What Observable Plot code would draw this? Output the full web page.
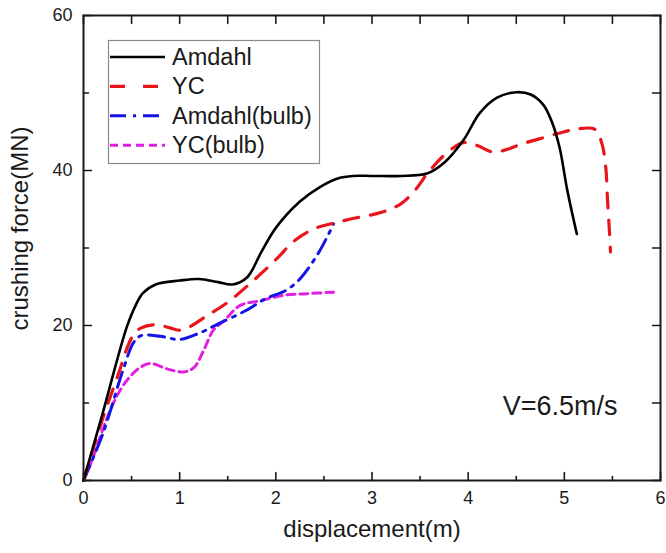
<!DOCTYPE html>
<html><head><meta charset="utf-8">
<script src="https://cdn.jsdelivr.net/npm/d3@7"></script>
<script src="https://cdn.jsdelivr.net/npm/@observablehq/plot@0.6"></script>
<style>body{margin:0;background:#fff}#chart{width:666px;height:553px}</style>
</head><body><div id="chart"></div>
<script>
// ---- data ----
const seriesNames = ["Amdahl", "YC", "Amdahl(bulb)", "YC(bulb)"];
const seriesColors = ["#000000", "#e8161b", "#1414e6", "#e020e0"];
const seriesDash = [null, "15,12", "16,7,3,7", "8,5"];
const seriesWidths = [2.6, 3.2, 3, 3];

const amdahlX = [0, 0.2, 0.45, 0.55, 0.62, 0.75, 1.0, 1.2, 1.4, 1.55, 1.7, 1.85, 2.0, 2.25, 2.45, 2.65, 2.8, 3.0, 3.3, 3.57, 3.75, 3.95, 4.12, 4.3, 4.5, 4.65, 4.78, 4.87, 4.95, 5.03, 5.13];
const amdahlY = [0, 8.7, 19.8, 22.8, 24.2, 25.3, 25.8, 26.0, 25.6, 25.3, 26.2, 29.5, 32.6, 36.0, 37.8, 39.0, 39.3, 39.3, 39.3, 39.6, 41.0, 43.9, 47.4, 49.4, 50.1, 49.8, 48.5, 46.3, 43.0, 37.5, 31.8];

const ycX = [0, 0.2, 0.37, 0.45, 0.52, 0.6, 0.75, 0.9, 1.0, 1.1, 1.25, 1.5, 1.73, 2.0, 2.2, 2.4, 2.6, 2.8, 3.1, 3.3, 3.45, 3.6, 3.8, 3.95, 4.1, 4.25, 4.4, 4.55, 4.8, 5.0, 5.15, 5.32, 5.39, 5.43, 5.45, 5.47, 5.48];
const ycY = [0, 8.0, 14.0, 17.0, 18.8, 19.7, 20.1, 19.7, 19.4, 19.8, 21.0, 23.0, 25.4, 28.5, 31.0, 32.5, 33.2, 33.8, 34.6, 35.7, 37.5, 40.0, 42.5, 43.6, 43.2, 42.4, 42.7, 43.4, 44.3, 45.0, 45.4, 45.3, 43.5, 40.5, 36.0, 32.0, 29.5];

const amdahlBulbX = [0, 0.2, 0.42, 0.52, 0.6, 0.8, 1.0, 1.2, 1.4, 1.7, 1.9, 2.1, 2.25, 2.45, 2.6];
const amdahlBulbY = [0, 6.0, 14.6, 17.8, 18.7, 18.6, 18.2, 19.0, 20.2, 22.0, 23.5, 24.5, 26.0, 29.5, 33.1];

const ycBulbX = [0, 0.1, 0.21, 0.33, 0.45, 0.59, 0.7, 0.87, 1.04, 1.15, 1.25, 1.35, 1.46, 1.63, 1.84, 2.08, 2.32, 2.6];
const ycBulbY = [0, 3.0, 6.9, 10.5, 12.9, 14.6, 15.1, 14.4, 14.0, 14.6, 16.8, 19.4, 20.6, 22.6, 23.2, 23.9, 24.1, 24.3];

const xTicks = [0, 1, 2, 3, 4, 5, 6];
const xMinorTicks = [0.5, 1.5, 2.5, 3.5, 4.5, 5.5];
const yTicks = [0, 20, 40, 60];
const yMinorTicks = [10, 30, 50];
const xTitle = "displacement(m)";
const yTitle = "crushing force(MN)";
const annotation = "V=6.5m/s";
const annotationX = 4.36;
const annotationY = 9.6;

// ---- build ----
const seriesXs = [amdahlX, ycX, amdahlBulbX, ycBulbX];
const seriesYs = [amdahlY, ycY, amdahlBulbY, ycBulbY];
const tables = seriesXs.map((xs, s) => xs.map((x, i) => ({x, y: seriesYs[s][i]})));

const font = "Liberation Sans, Arial, sans-serif";
const ink = "#1a1a1a";
const lineMarks = tables.map((t, s) => Plot.line(t, {
  x: "x", y: "y", stroke: seriesColors[s], strokeWidth: seriesWidths[s],
  strokeDasharray: seriesDash[s] || undefined, curve: "catmull-rom",
  strokeLinejoin: "round"
}));

// straight tick shape for vector marks
const tickShape = {draw(ctx, l) { ctx.moveTo(0, 0); ctx.lineTo(0, -l); }};
const tickX = (data, frameAnchor, rotate, length) => Plot.vector(data, {
  x: d => d, frameAnchor, rotate, length, anchor: "start", shape: tickShape,
  stroke: ink, strokeWidth: 1.6
});
const tickY = (data, frameAnchor, rotate, length) => Plot.vector(data, {
  y: d => d, frameAnchor, rotate, length, anchor: "start", shape: tickShape,
  stroke: ink, strokeWidth: 1.6
});

const svg = Plot.plot({
  width: 666, height: 553,
  marginLeft: 83, marginRight: 6, marginTop: 15, marginBottom: 73,
  style: {fontFamily: font, fontSize: "18px", color: ink, background: "#fff"},
  x: {domain: [0, 6], label: null},
  y: {domain: [0, 60], label: null},
  marks: [
    ...lineMarks.slice().reverse(),
    Plot.frame({stroke: ink, strokeWidth: 2}),
    // inward ticks
    tickX(xTicks, "bottom", 0, 8),
    tickX(xMinorTicks, "bottom", 0, 4),
    tickX(xTicks.concat(xMinorTicks), "top", 180, 8),
    tickY(yTicks, "left", 90, 8),
    tickY(yMinorTicks, "left", 90, 5),
    tickY(yTicks.concat(yMinorTicks), "right", 270, 8),
    // labels
    Plot.axisX(xTicks, {anchor: "bottom", tickSize: 0, tickPadding: 11, fontSize: 18, label: null}),
    Plot.axisY(yTicks, {anchor: "left", tickSize: 0, tickPadding: 11, fontSize: 18, label: null}),
    Plot.text([xTitle], {frameAnchor: "bottom", dy: 56, fontSize: 24, fill: ink}),
    Plot.text([yTitle], {frameAnchor: "left", textAnchor: "middle", dx: -63, dy: -19.5, rotate: -90, fontSize: 24, fill: ink}),
    Plot.text([annotation], {x: () => annotationX, y: () => annotationY, textAnchor: "start", fontSize: 27, fill: ink})
  ]
});

// legend
const g = d3.select(svg).append("g").attr("font-family", font).attr("text-anchor", "start");
g.append("rect").attr("x", 108.5).attr("y", 40.5).attr("width", 211).attr("height", 123)
  .attr("fill", "#fff").attr("stroke", "#8a8a8a").attr("stroke-width", 1.2);
seriesNames.forEach((name, s) => {
  const cy = 57 + s * 29.4;
  g.append("line").attr("x1", 110).attr("x2", 165).attr("y1", cy).attr("y2", cy)
    .attr("stroke", seriesColors[s]).attr("stroke-width", seriesWidths[s])
    .attr("stroke-dasharray", s === 1 ? "15,18" : seriesDash[s]);
  g.append("text").attr("x", 172).attr("y", cy + 8).attr("font-size", 23.5)
    .attr("text-anchor", "start").attr("fill", ink).text(name);
});

document.getElementById("chart").appendChild(svg);
</script>
</body></html>
